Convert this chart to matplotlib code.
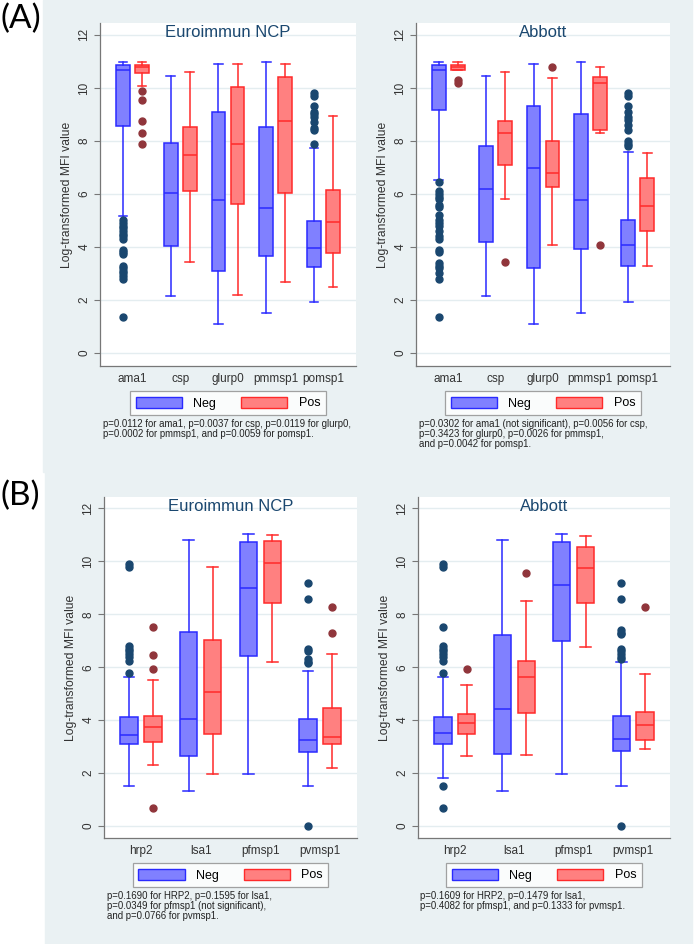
import numpy as np
import matplotlib
matplotlib.use("Agg")
import matplotlib.pyplot as plt
from matplotlib.patches import Patch, Rectangle

plt.rcParams['font.family'] = ['Liberation Sans', 'DejaVu Sans']

# categories
cats_a = ['ama1', 'csp', 'glurp0', 'pmmsp1', 'pomsp1']
cats_b = ['hrp2', 'lsa1', 'pfmsp1', 'pvmsp1']

# five-number summaries: [lower whisker, q1, median, q3, upper whisker]
# (A) Euroimmun NCP
a_euro_neg = [[5.17, 8.58, 10.67, 10.86, 10.99],
              [2.14, 4.03, 6.03, 7.94, 10.44],
              [1.09, 3.09, 5.77, 9.09, 10.91],
              [1.50, 3.66, 5.47, 8.54, 10.97],
              [1.94, 3.23, 3.95, 4.99, 7.74]]
a_euro_pos = [[10.08, 10.58, 10.80, 10.88, 10.97],
              [3.45, 6.13, 7.48, 8.54, 10.60],
              [2.19, 5.62, 7.89, 10.04, 10.89],
              [2.69, 6.05, 8.75, 10.43, 10.91],
              [2.48, 3.76, 4.94, 6.15, 8.93]]
a_euro_neg_out = [[5.0, 4.9, 4.8, 4.7, 4.6, 4.5, 4.4, 4.3, 3.9, 3.8, 3.75,
                   3.3, 3.2, 3.1, 3.0, 2.9, 2.8, 1.37],
                  [], [], [],
                  [9.8, 9.7, 9.3, 9.1, 9.0, 8.9, 8.7, 8.5, 8.4, 7.89]]
a_euro_pos_out = [[9.89, 9.55, 8.77, 8.31, 7.89], [], [], [], []]

# (A) Abbott
a_abb_neg = [[6.53, 9.16, 10.68, 10.86, 10.99],
             [2.14, 4.18, 6.18, 7.82, 10.44],
             [1.09, 3.19, 6.99, 9.30, 10.91],
             [1.50, 3.91, 5.79, 9.03, 10.97],
             [1.94, 3.30, 4.08, 5.03, 7.60]]
a_abb_pos = [[10.68, 10.68, 10.79, 10.88, 10.97],
             [5.80, 7.08, 8.29, 8.74, 10.60],
             [4.08, 6.25, 6.78, 8.01, 10.36],
             [8.31, 8.42, 10.18, 10.43, 10.80],
             [3.30, 4.60, 5.55, 6.60, 7.56]]
a_abb_neg_out = [[6.47, 6.1, 6.0, 5.9, 5.8, 5.6, 5.5, 5.2, 5.0, 4.9, 4.8, 4.6,
                  4.4, 4.3, 3.9, 3.8, 3.4, 3.3, 3.2, 3.0, 2.8, 1.37],
                 [], [], [],
                 [9.8, 9.7, 9.3, 9.1, 8.9, 8.8, 8.6, 8.4, 8.0, 7.9, 7.8]]
a_abb_pos_out = [[10.3, 10.2], [3.45], [10.79], [4.09], []]

# (B) Euroimmun NCP
b_euro_neg = [[1.51, 3.10, 3.43, 4.13, 5.64],
              [1.32, 2.66, 4.03, 7.34, 10.81],
              [1.95, 6.42, 8.99, 10.72, 11.05],
              [1.51, 2.78, 3.26, 4.06, 5.86]]
b_euro_pos = [[2.30, 3.17, 3.73, 4.14, 5.50],
              [1.95, 3.48, 5.05, 7.03, 9.80],
              [6.20, 8.41, 9.92, 10.78, 10.98],
              [2.20, 3.11, 3.38, 4.47, 6.49]]
b_euro_neg_out = [[9.9, 9.8, 6.8, 6.7, 6.6, 6.5, 6.4, 6.22, 5.77], [], [],
                  [9.19, 8.56, 6.7, 6.6, 6.3, 6.2, 6.15, 0.0]]
b_euro_pos_out = [[7.52, 6.46, 5.92, 0.69], [], [], [8.27, 7.28]]

# (B) Abbott
b_abb_neg = [[1.80, 3.10, 3.50, 4.12, 5.64],
             [1.32, 2.72, 4.42, 7.20, 10.81],
             [1.95, 6.99, 9.09, 10.73, 11.05],
             [1.51, 2.85, 3.30, 4.17, 6.18]]
b_abb_pos = [[2.64, 3.48, 3.88, 4.24, 5.33],
             [2.67, 4.26, 5.64, 6.22, 8.50],
             [6.78, 8.41, 9.74, 10.54, 10.94],
             [2.90, 3.24, 3.83, 4.31, 5.74]]
b_abb_neg_out = [[9.9, 9.8, 7.52, 6.8, 6.7, 6.6, 6.5, 6.4, 6.22, 5.77, 1.51, 0.69],
                 [], [],
                 [9.19, 8.56, 7.4, 7.3, 7.25, 6.7, 6.6, 6.5, 6.4, 6.3, 0.0]]
b_abb_pos_out = [[5.92], [9.56], [], [8.27]]

cap_a_euro = ("p=0.0112 for ama1, p=0.0037 for csp, p=0.0119 for glurp0,\n"
              "p=0.0002 for pmmsp1, and p=0.0059 for pomsp1.")
cap_a_abb = ("p=0.0302 for ama1 (not significant), p=0.0056 for csp,\n"
             "p=0.3423 for glurp0, p=0.0026 for pmmsp1,\n"
             "and p=0.0042 for pomsp1.")
cap_b_euro = ("p=0.1690 for HRP2, p=0.1595 for lsa1,\n"
              "p=0.0349 for pfmsp1 (not significant),\n"
              "and p=0.0766 for pvmsp1.")
cap_b_abb = ("p=0.1609 for HRP2, p=0.1479 for lsa1,\n"
             "p=0.4082 for pfmsp1, and p=0.1333 for pvmsp1.")

# colours
bg = '#eaf1f3'
grid_c = '#e4edf0'
neg_fill, neg_edge, neg_dot = '#8080ff', '#2a2aff', '#1a476f'
pos_fill, pos_edge, pos_dot = '#ff8080', '#ff2a2a', '#90353b'
title_c = '#1a476f'

W, H = 694, 944
fig = plt.figure(figsize=(W / 100, H / 100), dpi=100)
fig.patch.set_facecolor('white')

# grey graph regions (behind the axes)
fig.patches.append(Rectangle((43 / W, 1 - 472 / H), (692 - 43) / W, 472 / H,
                             transform=fig.transFigure, color=bg, zorder=-5))
fig.patches.append(Rectangle((45 / W, 0), (692 - 45) / W, 1 - 472 / H,
                             transform=fig.transFigure, color=bg, zorder=-5))


def px_axes(x0, y0, x1, y1):
    return fig.add_axes([x0 / W, 1 - y1 / H, (x1 - x0) / W, (y1 - y0) / H])


def make_stats(rows, outs):
    st = []
    for r, o in zip(rows, outs):
        st.append(dict(whislo=r[0], q1=r[1], med=r[2], q3=r[3], whishi=r[4],
                       fliers=o))
    return st


def draw_panel(ax, cats, neg, pos, neg_out, pos_out, title, ylim, margin,
               leg_gap):
    n = len(cats)
    x = np.arange(n)
    bw = 0.29
    off = 0.2
    for stats, fill, edge, dot, pos_x in [
            (make_stats(neg, neg_out), neg_fill, neg_edge, neg_dot, x - off),
            (make_stats(pos, pos_out), pos_fill, pos_edge, pos_dot, x + off)]:
        ax.bxp(stats, positions=pos_x, widths=bw, capwidths=bw * 0.62,
               patch_artist=True, manage_ticks=False,
               boxprops=dict(facecolor=fill, edgecolor=edge, linewidth=1.1),
               medianprops=dict(color=edge, linewidth=1.1),
               whiskerprops=dict(color=edge, linewidth=1.1),
               capprops=dict(color=edge, linewidth=1.1),
               flierprops=dict(marker='o', markerfacecolor=dot,
                               markeredgecolor=dot, markersize=5))
    ax.set_xlim(-margin, n - 1 + margin)
    ax.set_ylim(*ylim)
    ax.set_xticks(x)
    ax.set_xticklabels(cats, fontsize=8.5)
    ax.tick_params(axis='x', length=0, pad=5, colors='#333333')
    ax.set_yticks(np.arange(0, 13, 2))
    ax.set_yticklabels([str(v) for v in range(0, 13, 2)], rotation=90,
                       va='center', fontsize=8.5)
    ax.tick_params(axis='y', length=4, width=0.8, color='#777777', pad=3,
                   labelcolor='#333333')
    ax.grid(axis='y', color=grid_c, linewidth=1.0)
    ax.set_axisbelow(True)
    for s in ['top', 'right']:
        ax.spines[s].set_visible(False)
    for s in ['left', 'bottom']:
        ax.spines[s].set_color('#777777')
        ax.spines[s].set_linewidth(0.9)
    ax.set_ylabel('Log-transformed MFI value', fontsize=8.7, color='#333333',
                  labelpad=4)
    ax.text(0.5, 0.972, title, transform=ax.transAxes, ha='center',
            va='center', fontsize=12, color=title_c)
    handles = [Patch(facecolor=neg_fill, edgecolor=neg_edge, label='Neg'),
               Patch(facecolor=pos_fill, edgecolor=pos_edge, label='Pos')]
    leg = ax.legend(handles=handles, ncol=2, loc='upper center',
                    bbox_to_anchor=(0.5, -leg_gap), borderaxespad=0,
                    fontsize=9, frameon=True,
                    fancybox=False, handlelength=3.7, handleheight=1.0,
                    handletextpad=0.9, columnspacing=2.0, borderpad=0.45)
    leg.get_frame().set_edgecolor('#8c8c8c')
    leg.get_frame().set_linewidth(0.9)


ylim_a = (-0.49, 12.45)
ylim_b = (-0.45, 12.43)

ax1 = px_axes(100, 23, 356, 366)
draw_panel(ax1, cats_a, a_euro_neg, a_euro_pos, a_euro_neg_out, a_euro_pos_out,
           'Euroimmun NCP', ylim_a, 0.68, 25 / 343)
ax2 = px_axes(416, 23, 670, 366)
draw_panel(ax2, cats_a, a_abb_neg, a_abb_pos, a_abb_neg_out, a_abb_pos_out,
           'Abbott', ylim_a, 0.68, 25 / 343)
ax3 = px_axes(104, 497, 357, 838)
draw_panel(ax3, cats_b, b_euro_neg, b_euro_pos, b_euro_neg_out, b_euro_pos_out,
           'Euroimmun NCP', ylim_b, 0.62, 25 / 341)
ax4 = px_axes(418, 497, 670, 838)
draw_panel(ax4, cats_b, b_abb_neg, b_abb_pos, b_abb_neg_out, b_abb_pos_out,
           'Abbott', ylim_b, 0.62, 25 / 341)


def cap_text(x, y, s):
    fig.text(x / W, 1 - y / H, s, ha='left', va='top', fontsize=6.9,
             color='#222222', linespacing=1.0)


cap_text(103, 419, cap_a_euro)
cap_text(419, 419, cap_a_abb)
cap_text(107, 891, cap_b_euro)
cap_text(420, 891, cap_b_abb)

fig.text(0, 1 - 19 / H, '(A)', fontsize=24, family=['Lato', 'DejaVu Sans'],
         ha='left', va='center')
fig.text(0, 1 - 496 / H, '(B)', fontsize=24, family=['Lato', 'DejaVu Sans'],
         ha='left', va='center')

fig.savefig('out.png', dpi=100, facecolor='white')
